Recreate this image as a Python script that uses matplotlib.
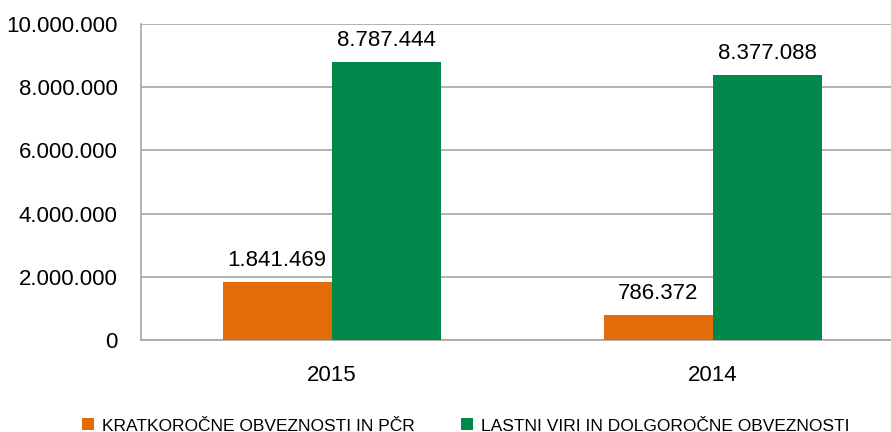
import matplotlib.pyplot as plt
import numpy as np

years = ["2015", "2014"]
kratkorocne = [1841469, 786372]
lastni = [8787444, 8377088]
series_names = ["KRATKOROČNE OBVEZNOSTI IN PČR", "LASTNI VIRI IN DOLGOROČNE OBVEZNOSTI"]

plt.rcParams['font.family'] = ['Liberation Sans', 'DejaVu Sans']

def fmt(v):
    return f"{v:,.0f}".replace(",", ".")

fig = plt.figure(figsize=(8.91, 4.32), dpi=100)
ax = fig.add_axes([141 / 891, 1 - 340 / 432, 762.5 / 891, 316 / 432])

x = np.arange(len(years))
w = 0.286
b1 = ax.bar(x - w / 2, kratkorocne, w, color="#E36C0A", label=series_names[0], zorder=3)
b2 = ax.bar(x + w / 2, lastni, w, color="#00874A", label=series_names[1], zorder=3)

for bars, vals in ((b1, kratkorocne), (b2, lastni)):
    for r, v in zip(bars, vals):
        ax.annotate(fmt(v), (r.get_x() + r.get_width() / 2, v), xytext=(0, 8),
                    textcoords="offset points", ha="center", va="bottom", fontsize=16)

ax.set_xlim(-0.5, 1.5)
ax.set_ylim(0, 10000000)
ax.set_yticks(range(0, 10000001, 2000000))
ax.set_yticklabels([fmt(v) for v in range(0, 10000001, 2000000)])
ax.set_xticks(x)
ax.set_xticklabels(years)
ax.tick_params(axis="y", length=0, pad=17, labelsize=16)
ax.tick_params(axis="x", length=0, pad=18, labelsize=16)
ax.grid(axis="y", color="#A6A6A6", linewidth=1.2, zorder=0)
for s in ("top", "right"):
    ax.spines[s].set_visible(False)
ax.spines["left"].set_color("#A6A6A6")
ax.spines["left"].set_linewidth(1.2)
ax.spines["bottom"].set_color("#A6A6A6")
ax.spines["bottom"].set_linewidth(1.2)

fig.legend(handles=[b1, b2], loc="center", bbox_to_anchor=(465.5 / 891, 1 - 426 / 432), ncol=2,
           frameon=False, fontsize=12.5, handlelength=0.69, handleheight=0.69,
           columnspacing=2.65, handletextpad=0.46, borderpad=0, borderaxespad=0)

fig.savefig("out.png", dpi=100)
